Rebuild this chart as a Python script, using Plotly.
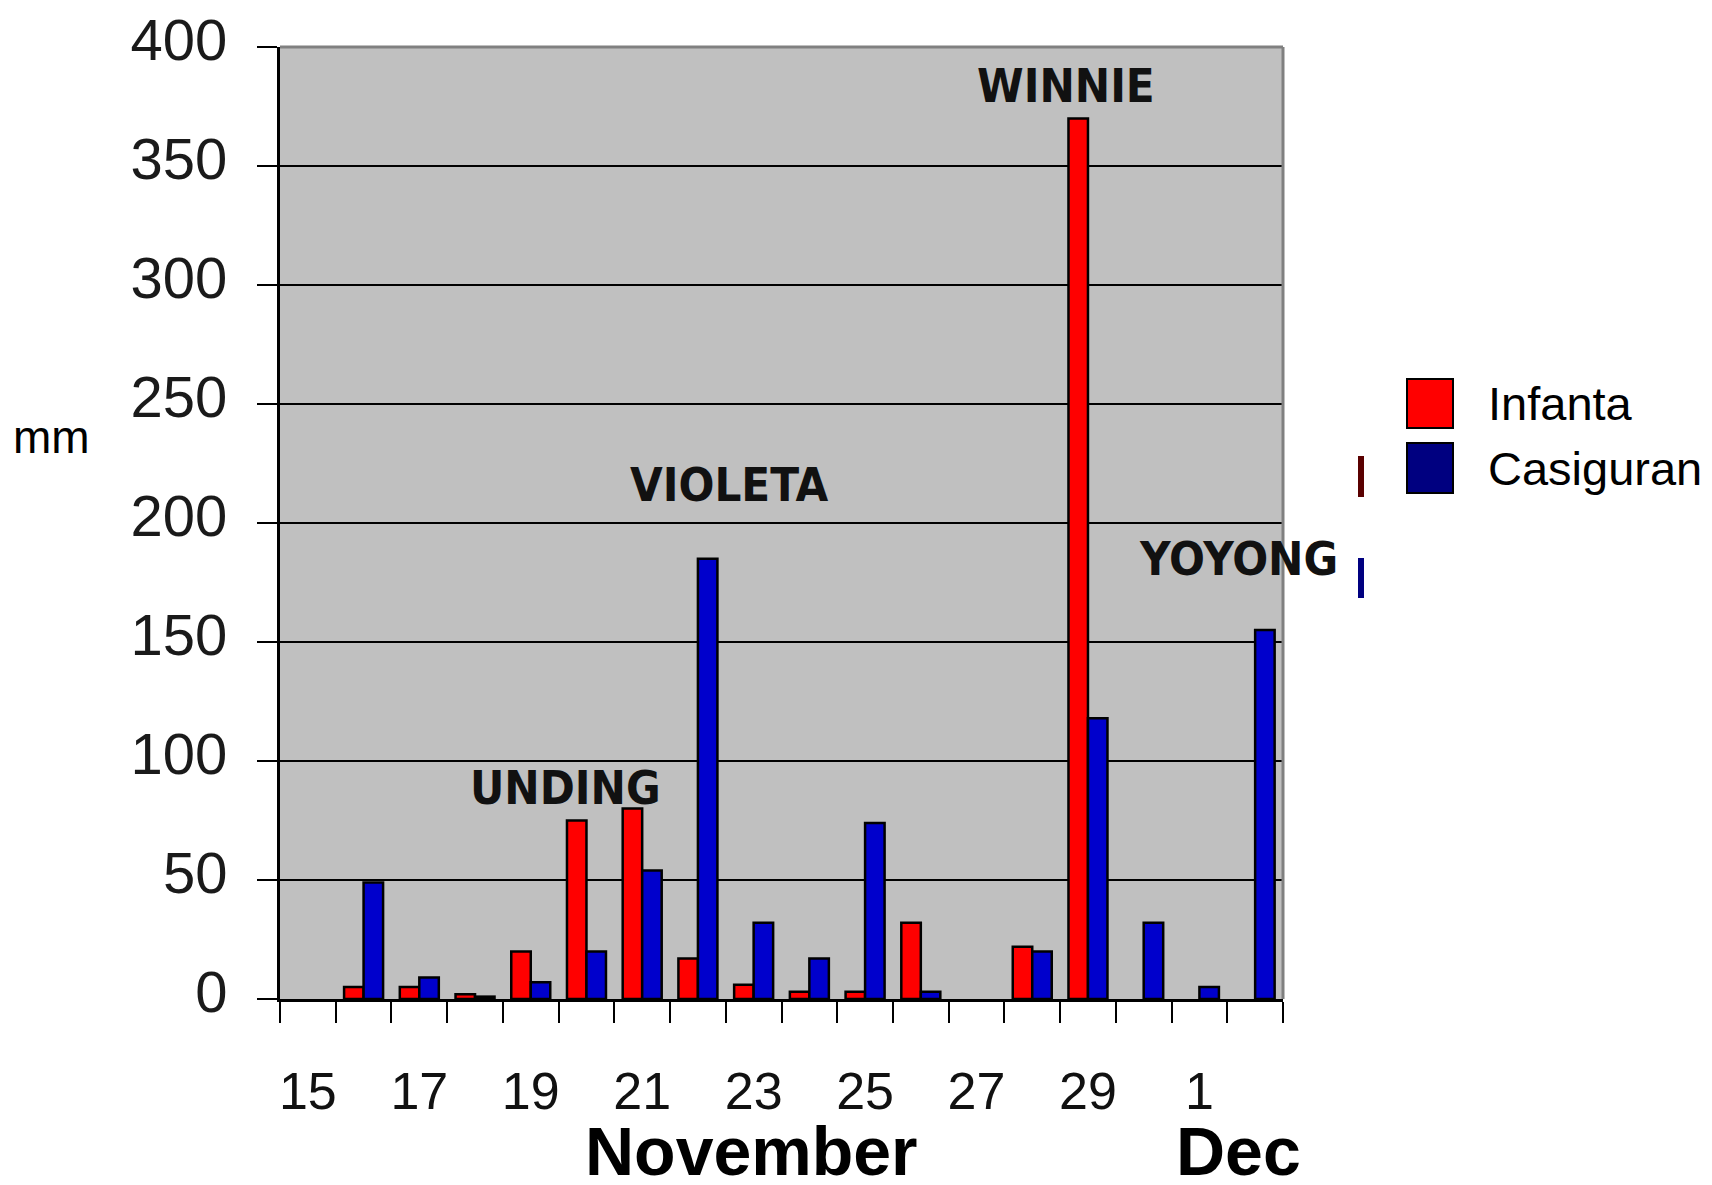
import plotly.graph_objects as go

# Daily rainfall (mm), 15 November to 2 December
days = ["15", "16", "17", "18", "19", "20", "21", "22", "23", "24",
        "25", "26", "27", "28", "29", "30", "1", "2"]
infanta = [0, 5, 5, 2, 20, 75, 80, 17, 6, 3, 3, 32, 0, 22, 370, 0, 0, 0]
casiguran = [0, 49, 9, 1, 7, 20, 54, 185, 32, 17, 74, 3, 0, 20, 118, 32, 5, 155]

# Storm names placed over the rainfall peaks
storms = ["UNDING", "VIOLETA", "WINNIE", "YOYONG"]
storm_x = [4.62, 7.56, 13.61, 16.71]
storm_y = [89, 216, 384, 185]

y_ticks = [0, 50, 100, 150, 200, 250, 300, 350, 400]

W, H = 1712, 1185
L, R, T, B = 280, 1283, 47, 999

def px_x(px):
    return (px - L) / (R - L)

def px_y(py):
    return (B - py) / (B - T)

def dry_days_blank(values):
    # days without rain get no bar at all
    return [v if v > 0 else None for v in values]

pos = list(range(len(days)))
label_pos = pos[::2]
label_txt = days[::2]

fig = go.Figure()
fig.add_bar(x=pos, y=dry_days_blank(infanta), name="Infanta", showlegend=False,
            marker=dict(color="#FF0000", line=dict(color="#000000", width=2.5)))
fig.add_bar(x=pos, y=dry_days_blank(casiguran), name="Casiguran", showlegend=False,
            marker=dict(color="#0000CC", line=dict(color="#000000", width=2.5)))

font = "Arial, Liberation Sans, sans-serif"
cond_bold = "DejaVu Sans Condensed, DejaVu Sans, sans-serif"

fig.update_layout(
    width=W, height=H,
    margin=dict(l=L, r=W - R, t=T, b=H - B, pad=0, autoexpand=False),
    paper_bgcolor="#FFFFFF",
    plot_bgcolor="#C0C0C0",
    barmode="group", bargap=0.3, bargroupgap=0.0,
    font=dict(family=font, color="#000000"),
    showlegend=False,
    xaxis=dict(
        range=[-0.5, len(days) - 0.5], automargin=False,
        tickmode="array", tickvals=label_pos, ticktext=label_txt,
        ticks="", showgrid=False, zeroline=False,
        showline=True, linecolor="#000000", linewidth=3,
        tickfont=dict(size=52, family=font, color="#111111"),
        ticklabelstandoff=45,
        minor=dict(tickmode="array",
                   tickvals=[p - 0.5 for p in pos] + [len(days) - 0.5],
                   ticks="outside", ticklen=21, tickwidth=2, tickcolor="#000000",
                   showgrid=False),
    ),
    yaxis=dict(
        range=[0, 400], tickmode="array", tickvals=y_ticks, automargin=False,
        ticks="outside", ticklen=20, tickwidth=2, tickcolor="#000000",
        showgrid=True, gridcolor="#000000", gridwidth=2,
        zeroline=False,
        showline=True, linecolor="#000000", linewidth=3,
        tickfont=dict(size=58, family=font, color="#1a1a1a"),
        ticklabelstandoff=18, ticklabelshift=-7,
    ),
)

# Frame on the top and right of the plotting area
fig.add_shape(type="line", xref="paper", yref="paper", x0=0, x1=1, y0=1, y1=1,
              line=dict(color="#808080", width=3), layer="above")
fig.add_shape(type="line", xref="paper", yref="paper", x0=1, x1=1, y0=0, y1=1,
              line=dict(color="#808080", width=3), layer="above")

# Storm names
for name, sx, sy in zip(storms, storm_x, storm_y):
    fig.add_annotation(x=sx, y=sy, xref="x", yref="y", text="<b>" + name + "</b>",
                       showarrow=False, xanchor="center", yanchor="middle",
                       font=dict(size=47, family=cond_bold, color="#111111"))

# Month labels under the day numbers
fig.add_annotation(x=7.97, y=px_y(1151), xref="x", yref="paper", text="<b>November</b>",
                   showarrow=False, xanchor="center", yanchor="middle",
                   font=dict(size=68, family=font, color="#000000"))
fig.add_annotation(x=16.71, y=px_y(1151), xref="x", yref="paper", text="<b>Dec</b>",
                   showarrow=False, xanchor="center", yanchor="middle",
                   font=dict(size=68, family=font, color="#000000"))

# Axis unit
fig.add_annotation(x=px_x(51), y=px_y(437), xref="paper", yref="paper", text="mm",
                   showarrow=False, xanchor="center", yanchor="middle",
                   font=dict(size=46, family=font, color="#000000"))

# Legend
legend_items = [("Infanta", "#FF0000", 379, 428), ("Casiguran", "#000080", 443, 493)]
for label, color, top, bottom in legend_items:
    fig.add_shape(type="rect", xref="paper", yref="paper",
                  x0=px_x(1407), x1=px_x(1453), y0=px_y(bottom), y1=px_y(top),
                  fillcolor=color, line=dict(color="#000000", width=2))
    fig.add_annotation(x=px_x(1486), y=px_y((top + bottom) / 2), xref="paper", yref="paper",
                       text=label, showarrow=False, xanchor="left", yanchor="middle",
                       font=dict(size=47, family=font, color="#000000"))

# Leftover key swatch slivers beside the frame
for color, top, bottom in [("#5a0000", 456, 497), ("#000080", 558, 598)]:
    fig.add_shape(type="rect", xref="paper", yref="paper",
                  x0=px_x(1358), x1=px_x(1364), y0=px_y(bottom), y1=px_y(top),
                  fillcolor=color, line=dict(width=0))

fig.write_html("out.html")
